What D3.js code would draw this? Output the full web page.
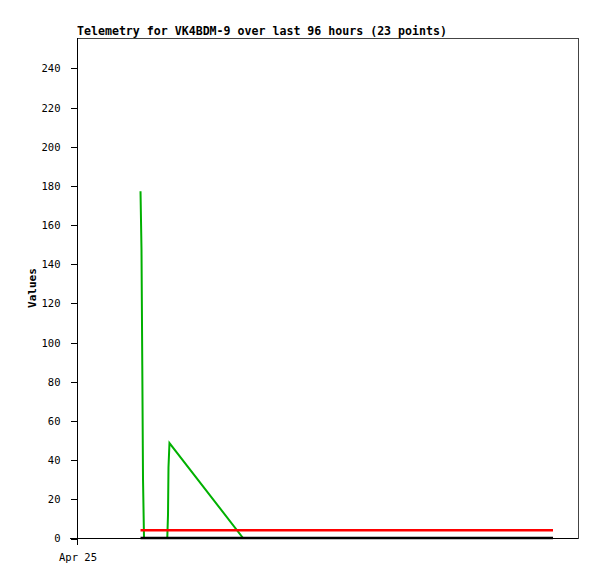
<!DOCTYPE html>
<html>
<head>
<meta charset="utf-8">
<script src="https://cdn.jsdelivr.net/npm/d3@7"></script>
<style>
  body { margin: 0; background: #fff; }
  text { font-family: 'DejaVu Sans Mono', monospace; }
</style>
</head>
<body>
<svg width="597" height="579"></svg>
<script>
const width = 597
const height = 579
const margin = { top: 38, right: 19, bottom: 41, left: 77 }

const title = 'Telemetry for VK4BDM-9 over last 96 hours (23 points)'

// hours since Apr 25 00:00
const hours = [12.17, 12.36, 12.51, 12.65, 12.84, 13.99, 15.14, 16.29, 17.30, 17.44, 17.53, 17.72,
  31.81, 36.98, 42.73, 50.39, 58.06, 65.72, 73.39, 81.05, 86.80, 89.68, 91.21]

const green = [177, 147, 88, 30, 0, 0, 0, 0, 0, 12, 36, 48.5,
  0, 0, 0, 0, 0, 0, 0, 0, 0, 0, 0]
const red = hours.map(() => 4)
const black = hours.map(() => 0)

const yTicks = [0, 20, 40, 60, 80, 100, 120, 140, 160, 180, 200, 220, 240]
const xTicks = [0]
const xTickLabels = ['Apr 25']

const svg = d3.select('svg')

const xScale = d3.scaleLinear()
  .domain([0, 96])
  .range([margin.left, width - margin.right])

const yScale = d3.scaleLinear()
  .domain([0, 255.3])
  .range([height - margin.bottom, margin.top])

// frame
svg.append('rect')
  .attr('x', margin.left + 0.5)
  .attr('y', margin.top + 0.5)
  .attr('width', width - margin.left - margin.right)
  .attr('height', height - margin.top - margin.bottom)
  .attr('fill', 'none')
  .attr('stroke', '#444')
  .attr('shape-rendering', 'crispEdges')

const line = d3.line()
  .x((d, i) => xScale(hours[i]))
  .y(d => yScale(d))

const series = [
  { values: green, color: '#00b000', w: 2 },
  { values: red, color: '#ff0000', w: 2.5 },
  { values: black, color: '#000000', w: 2.5 }
]

series.forEach(s => {
  svg.append('path')
    .datum(s.values)
    .attr('d', line)
    .attr('fill', 'none')
    .attr('stroke', s.color)
    .attr('stroke-width', s.w)
})

// y axis
const yAxis = d3.axisLeft(yScale)
  .tickValues(yTicks)
  .tickSize(7)
  .tickPadding(10)

const yg = svg.append('g')
  .attr('transform', `translate(${margin.left + 0.5},0.5)`)
  .call(yAxis)
yg.select('.domain').remove()
yg.selectAll('line').attr('stroke', '#000').attr('shape-rendering', 'crispEdges')
yg.selectAll('text')
  .attr('font-size', '10.5px')
  .attr('font-family', 'DejaVu Sans Mono')
  .attr('fill', '#000')

svg.append('line')
  .attr('x1', margin.left + 0.5).attr('x2', margin.left + 0.5)
  .attr('y1', margin.top).attr('y2', height - margin.bottom + 7)
  .attr('stroke', '#000')
  .attr('shape-rendering', 'crispEdges')

// x axis
const xAxis = d3.axisBottom(xScale)
  .tickValues(xTicks)
  .tickFormat((d, i) => xTickLabels[i])
  .tickSize(0)
  .tickPadding(16)

const xg = svg.append('g')
  .attr('transform', `translate(0.5,${height - margin.bottom})`)
  .call(xAxis)
xg.select('.domain').remove()
xg.selectAll('text')
  .attr('font-size', '10.5px')
  .attr('font-family', 'DejaVu Sans Mono')
  .attr('fill', '#000')

svg.append('line')
  .attr('x1', margin.left - 7).attr('x2', width - margin.right)
  .attr('y1', height - margin.bottom + 0.5).attr('y2', height - margin.bottom + 0.5)
  .attr('stroke', '#000')
  .attr('shape-rendering', 'crispEdges')

// title
svg.append('text')
  .attr('x', margin.left)
  .attr('y', 35)
  .attr('font-size', '11.6px')
  .attr('font-weight', 'bold')
  .text(title)

svg.append('text')
  .attr('transform', `translate(36,${(margin.top + height - margin.bottom) / 2}) rotate(-90)`)
  .attr('text-anchor', 'middle')
  .attr('font-size', '11px')
  .attr('font-weight', 'bold')
  .text('Values')
</script>
</body>
</html>
